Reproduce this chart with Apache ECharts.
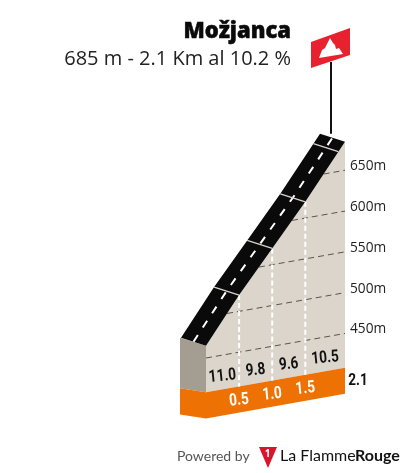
<!DOCTYPE html>
<html><head><meta charset="utf-8">
<style>html,body{margin:0;padding:0;background:#fff}#c{width:405px;height:473px}</style>
<script src="https://cdn.jsdelivr.net/npm/echarts@6/dist/echarts.min.js"></script>
</head><body><div id="c"></div>
<script>
const climbName = 'Možjanca';
const climbStats = '685 m - 2.1 Km al 10.2 %';
const kmMarks = [0, 0.5, 1.0, 1.5, 2.1];
const elevations = [465, 520, 570, 620, 685];
const segmentGradients = ['11.0', '9.8', '9.6', '10.5'];
const kmLabels = ['0.5', '1.0', '1.5'];
const kmLabelValues = [0.5, 1.0, 1.5];
const totalLabel = '2.1';
const roadCrossings = [0.5, 1.0, 1.5, 2.0];
const elevationTicks = [450, 500, 550, 600, 650];
const baseElevation = 408;
const bandBottomElevation = 376;

const SKEW = 0.1765;
const ROAD_DX = -25, ROAD_DY = -8;
const SANS = '"Open Sans",sans-serif';
const NARROW = 'Roboto,sans-serif';
const TILT = 0.1;
const NARROW_SCALE = 0.8;

function roadElevation(km) {
  for (let i = 1; i < kmMarks.length; i++) {
    if (km <= kmMarks[i]) {
      const t = (km - kmMarks[i - 1]) / (kmMarks[i] - kmMarks[i - 1]);
      return elevations[i - 1] + t * (elevations[i] - elevations[i - 1]);
    }
  }
  return elevations[elevations.length - 1];
}
function kmAtElevation(e) {
  if (e <= elevations[0]) return 0;
  for (let i = 1; i < elevations.length; i++) {
    if (e <= elevations[i]) {
      const t = (e - elevations[i - 1]) / (elevations[i] - elevations[i - 1]);
      return kmMarks[i - 1] + t * (kmMarks[i] - kmMarks[i - 1]);
    }
  }
  return kmMarks[kmMarks.length - 1];
}

function renderProfile(params, api) {
  if (params.dataIndex !== 0) return null;
  const x0 = api.coord([0, 400])[0];
  const P = (km, e) => { const p = api.coord([km, e]); return [p[0], p[1] - SKEW * (p[0] - x0)]; };
  const off = (p, dx, dy) => [p[0] + dx, p[1] + dy];
  const kids = [];
  const poly = (points, fill, z2) => kids.push({ type: 'polygon', z2: z2 || 0, shape: { points }, style: { fill } });
  const line = (a, b, stroke, width, dash, z2) => kids.push({ type: 'line', z2: z2 || 1, shape: { x1: a[0], y1: a[1], x2: b[0], y2: b[1] }, style: { stroke, lineWidth: width, lineDash: dash || null } });
  const label = (p, text, font, fill, rot, align, sx) => kids.push({ type: 'text', z2: 5, x: p[0], y: p[1], rotation: rot, scaleX: sx || 1, style: { x: 0, y: 0, text, font, fill, align: align || 'center', verticalAlign: 'middle' } });

  const top = kmMarks.map((k, i) => P(k, elevations[i]));
  const last = kmMarks[kmMarks.length - 1];
  // terrain
  poly(top.concat([P(last, baseElevation), P(0, baseElevation)]), '#dcd5cc');
  // side block
  poly([P(0, elevations[0]), off(P(0, elevations[0]), -26, -8), off(P(0, baseElevation), -26, -4), P(0, baseElevation)], '#a39d92');
  // orange band
  poly([off(P(0, baseElevation), -26, -4), P(0, baseElevation), P(last, baseElevation), P(last, bandBottomElevation), P(0, bandBottomElevation), off(P(0, bandBottomElevation), -26, -4)], '#ee7203');
  // elevation grid lines
  elevationTicks.forEach(t => {
    line(P(kmAtElevation(t), t), P(last, t), '#59544e', 1, [6, 4], 1);
    const end = P(last, t);
    label([end[0] + 5, end[1] - 4], t + 'm', '13.7px ' + SANS, '#222', 0, 'left');
  });
  // km dashes
  kmLabelValues.forEach(k => line(P(k, roadElevation(k)), P(k, baseElevation), '#fff', 2, [5, 3], 2));
  // road
  const back = top.map(p => off(p, ROAD_DX, ROAD_DY)).reverse();
  poly(top.concat(back), '#0a0a0a', 3);
  const centre = top.map(p => off(p, ROAD_DX / 2, ROAD_DY / 2));
  kids.push({ type: 'polyline', z2: 4, shape: { points: centre }, style: { fill: null, stroke: '#fff', lineWidth: 2, lineDash: [8, 9] } });
  roadCrossings.forEach(k => {
    const p = P(k, roadElevation(k));
    line(p, off(p, ROAD_DX, ROAD_DY), '#d8d4cd', 1.3, null, 4);
  });
  // segment gradients
  segmentGradients.forEach((g, i) => {
    const k = (kmMarks[i] + kmMarks[i + 1]) / 2;
    label(off(P(k, baseElevation), 0, -13), g, 'bold 17px ' + NARROW, '#111', TILT, 'center', NARROW_SCALE);
  });
  // km labels
  kmLabels.forEach((t, i) => label(off(P(kmLabelValues[i], baseElevation), 0, 14), t, 'bold 17px ' + NARROW, '#fff', TILT, 'center', NARROW_SCALE));
  label(off(P(last, baseElevation), 13, 13), totalLabel, 'bold 17px ' + NARROW, '#111', 0, 'center', NARROW_SCALE);
  // summit pole
  const s = top[top.length - 1];
  const poleX = s[0] - 14;
  line([poleX, s[1] - 8], [poleX, 62], '#111', 2, null, 2);
  return { type: 'group', children: kids };
}

const chart = echarts.init(document.getElementById('c'), null, { renderer: 'canvas' });
chart.setOption({
  animation: false,
  backgroundColor: '#fff',
  title: [
    { text: climbName, left: 291, top: 21, padding: 0, textAlign: 'right', textStyle: { fontFamily: 'Open Sans', fontWeight: 800, fontSize: 22, color: '#0a0a0a', textBorderColor: '#0a0a0a', textBorderWidth: 0.5 } },
    { text: climbStats, left: 291, top: 49, padding: 0, textAlign: 'right', textStyle: { fontFamily: 'Open Sans', fontWeight: 'normal', fontSize: 20, color: '#222' } }
  ],
  grid: { left: 206, width: 139, top: 154, height: 244.8 },
  xAxis: { type: 'value', min: 0, max: 2.1, show: false },
  yAxis: { type: 'value', min: 400, max: 700, show: false },
  series: [{
    type: 'custom',
    coordinateSystem: 'cartesian2d',
    clip: false,
    silent: true,
    data: kmMarks.map((k, i) => [k, elevations[i]]),
    renderItem: renderProfile
  }],
  graphic: [
    // summit flag
    { type: 'polygon', shape: { points: [[311, 42], [350, 28], [350, 55], [311, 68]] }, style: { fill: '#e8212f' } },
    { type: 'polygon', shape: { points: [[319, 58], [322, 50], [325, 48], [327, 44], [330, 38], [333, 43], [335, 45], [336, 49], [339, 48], [343, 54]] }, style: { fill: '#fff' } },
    // footer
    { type: 'text', x: 177, y: 456, style: { text: 'Powered by', font: '14px Lato,"Open Sans",sans-serif', fill: '#555', verticalAlign: 'middle' } },
    { type: 'polygon', shape: { points: [[259, 447], [277, 447], [268, 468]] }, style: { fill: '#d9142b' } },
    { type: 'text', x: 267.5, y: 454, style: { text: '1', font: 'bold 10px "Open Sans",sans-serif', fill: '#fff', align: 'center', verticalAlign: 'middle' } },
    { type: 'text', x: 280, y: 456, style: { text: 'La Flamme', font: '16px Lato,"Open Sans",sans-serif', fill: '#111', verticalAlign: 'middle' } },
    { type: 'text', x: 355, y: 456, style: { text: 'Rouge', font: 'bold 16px Lato,"Open Sans",sans-serif', fill: '#111', verticalAlign: 'middle' } }
  ]
});
</script></body></html>
